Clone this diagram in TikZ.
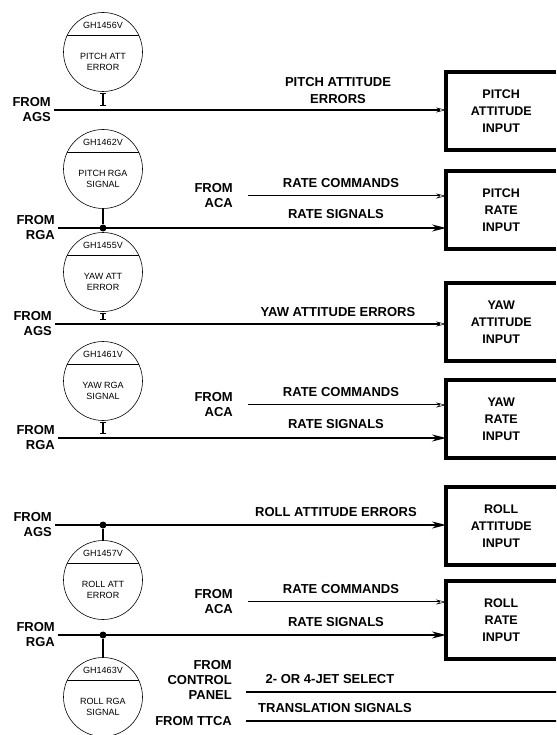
\documentclass[tikz,border=0pt]{standalone}
\usepackage{fontspec}
\setmainfont{Liberation Sans}
\usepackage{tikz}
\usetikzlibrary{arrows.meta,positioning}

\begin{document}
\begin{tikzpicture}[x=1pt, y=-1pt,
    meter/.style={circle, draw, line width=0.6pt, minimum size=79pt, inner sep=0pt,
        path picture={\draw[line width=0.6pt] ([yshift=17pt]path picture bounding box.west) -- ([yshift=17pt]path picture bounding box.east);}},
    meterid/.style={font=\fontsize{9}{10}\selectfont, inner sep=0pt},
    metertxt/.style={font=\fontsize{9}{11}\selectfont, align=center, inner sep=0pt},
    inbox/.style={minimum width=110pt, minimum height=78pt, anchor=west, inner sep=0pt, align=center, font=\bfseries\fontsize{12.5}{17}\selectfont},
    boxedge/.style={line width=3.5pt, line join=miter},
    from/.style={font=\bfseries\fontsize{13}{15}\selectfont, align=right, inner sep=1pt},
    sigtxt/.style={font=\bfseries\fontsize{13}{17}\selectfont, align=center, inner sep=0pt},
    sig/.style={line width=1.6pt},
    cmd/.style={draw=black, double=white, double distance=0.8pt, line width=0.6pt},
    solidtip/.style={-{Stealth[length=14pt,width=7pt]}},
    thintip/.style={-{Stealth[open,length=10pt,width=5pt,line width=0.5pt]}},
    ibar/.style={line width=1.2pt, {Bar[width=6pt]}-{Bar[width=6pt]}},
    stem/.style={line width=1.2pt},
    dot/.style={circle, fill, inner sep=0pt, minimum size=7pt}]
    \useasboundingbox (0,0) rectangle (556,735);
    \clip (0,0) rectangle (556,735);

    % Pitch attitude
    \node[meter] at (103,52) (pattc) {};
    \node[meterid] at (103,25) (pattid) {GH1456V};
    \node[metertxt] at (103,62) (patttx) {PITCH ATT\\ERROR};
    \coordinate (agsp) at (54,110);
    \node[from, left=2pt of agsp] (fagsp) {FROM\\AGS};
    \node[inbox] at (446,111) (pattb) {PITCH\\ATTITUDE\\INPUT};
    \draw[boxedge] (pattb.north east) -| (pattb.south west) -- (pattb.south east);
    \draw[sig, thintip] (agsp) -- (agsp -| pattb.west);
    \node[sigtxt] at (338,91) (pattlbl) {PITCH ATTITUDE\\ERRORS};
    \draw[ibar] ([yshift=-1pt]pattc.south) -- ([yshift=4pt]pattc.south |- agsp);

    % Pitch rate
    \node[meter] at (103,169) (prgac) {};
    \node[meterid] at (103,142) (prgaid) {GH1462V};
    \node[metertxt] at (103,179) (prgatx) {PITCH RGA\\SIGNAL};
    \coordinate (acap) at (248,196);
    \node[from, left=14pt of acap] (facap) {FROM\\ACA};
    \coordinate (rgap) at (58,228);
    \node[from, left=2pt of rgap] (frgap) {FROM\\RGA};
    \node[inbox] at (446,210) (prateb) {PITCH\\RATE\\INPUT};
    \draw[boxedge] (prateb.north east) -| (prateb.south west) -- (prateb.south east);
    \draw[cmd, thintip] (acap) -- (acap -| prateb.west);
    \draw[sig, solidtip] (rgap) -- (rgap -| prateb.west);
    \node[sigtxt] at (341,183) (pcmdlbl) {RATE COMMANDS};
    \node[sigtxt] at (336,214) (psiglbl) {RATE SIGNALS};
    \node[dot] at (prgac |- rgap) (prgad) {};
    \draw[stem] (prgac.south) -- (prgad);

    % Yaw attitude
    \node[meter] at (103,272) (yattc) {};
    \node[meterid] at (103,245) (yattid) {GH1455V};
    \node[metertxt] at (103,282) (yatttx) {YAW ATT\\ERROR};
    \coordinate (agsy) at (55,324);
    \node[from, left=2pt of agsy] (fagsy) {FROM\\AGS};
    \node[inbox] at (446,322) (yattb) {YAW\\ATTITUDE\\INPUT};
    \draw[boxedge] (yattb.north east) -| (yattb.south west) -- (yattb.south east);
    \draw[sig, thintip] (agsy) -- (agsy -| yattb.west);
    \node[sigtxt] at (338,312) (yattlbl) {YAW ATTITUDE ERRORS};
    \draw[ibar] ([yshift=-1pt]yattc.south) -- ([yshift=4pt]yattc.south |- agsy);

    % Yaw rate
    \node[meter] at (103,381) (yrgac) {};
    \node[meterid] at (103,354) (yrgaid) {GH1461V};
    \node[metertxt] at (103,391) (yrgatx) {YAW RGA\\SIGNAL};
    \coordinate (acay) at (248,405);
    \node[from, left=14pt of acay] (facay) {FROM\\ACA};
    \coordinate (rgay) at (58,438);
    \node[from, left=2pt of rgay] (frgay) {FROM\\RGA};
    \node[inbox] at (446,419) (yrateb) {YAW\\RATE\\INPUT};
    \draw[boxedge] (yrateb.north east) -| (yrateb.south west) -- (yrateb.south east);
    \draw[cmd, thintip] (acay) -- (acay -| yrateb.west);
    \draw[sig, solidtip] (rgay) -- (rgay -| yrateb.west);
    \node[sigtxt] at (341,392) (ycmdlbl) {RATE COMMANDS};
    \node[sigtxt] at (336,424) (ysiglbl) {RATE SIGNALS};
    \draw[ibar] ([yshift=-1pt]yrgac.south) -- ([yshift=4pt]yrgac.south |- rgay);

    % Roll attitude
    \coordinate (agsr) at (55,525);
    \node[from, left=2pt of agsr] (fagsr) {FROM\\AGS};
    \node[inbox] at (446,526) (rattb) {ROLL\\ATTITUDE\\INPUT};
    \draw[boxedge] (rattb.north east) -| (rattb.south west) -- (rattb.south east);
    \draw[sig, solidtip] (agsr) -- (agsr -| rattb.west);
    \node[sigtxt] at (336,512) (rattlbl) {ROLL ATTITUDE ERRORS};
    \node[meter] at (103,580) (rattc) {};
    \node[meterid] at (103,553) (rattid) {GH1457V};
    \node[metertxt] at (103,590) (ratttx) {ROLL ATT\\ERROR};
    \node[dot] at (rattc |- agsr) (rattd) {};
    \draw[stem] (rattd) -- (rattc.north);

    % Roll rate
    \coordinate (acar) at (248,602);
    \node[from, left=14pt of acar] (facar) {FROM\\ACA};
    \coordinate (rgar) at (58,635);
    \node[from, left=2pt of rgar] (frgar) {FROM\\RGA};
    \node[inbox] at (446,620) (rrateb) {ROLL\\RATE\\INPUT};
    \draw[boxedge] (rrateb.north east) -| (rrateb.south west) -- (rrateb.south east);
    \draw[cmd, thintip] (acar) -- (acar -| rrateb.west);
    \draw[sig, solidtip] (rgar) -- (rgar -| rrateb.west);
    \node[sigtxt] at (341,589) (rcmdlbl) {RATE COMMANDS};
    \node[sigtxt] at (336,622) (rsiglbl) {RATE SIGNALS};
    \node[meter] at (103,697) (rrgac) {};
    \node[meterid] at (103,670) (rrgaid) {GH1463V};
    \node[metertxt] at (103,707) (rrgatx) {ROLL RGA\\SIGNAL};
    \node[dot] at (rrgac |- rgar) (rrgad) {};
    \draw[stem] (rrgad) -- (rrgac.north);

    % Jet select and translation
    \coordinate (cpan) at (246,692);
    \coordinate (cpanend) at (560,692);
    \node[from, left=13pt of cpan, yshift=12pt] (fcpan) {FROM\\CONTROL\\PANEL};
    \draw[sig] (cpan) -- (cpanend);
    \node[sigtxt] at (330,679) (jetlbl) {2- OR 4-JET SELECT};
    \coordinate (ttca) at (246,721);
    \coordinate (ttcaend) at (560,721);
    \node[from, left=13pt of ttca] (fttca) {FROM TTCA};
    \draw[sig] (ttca) -- (ttcaend);
    \node[sigtxt] at (335,708) (translbl) {TRANSLATION SIGNALS};
\end{tikzpicture}
\end{document}
